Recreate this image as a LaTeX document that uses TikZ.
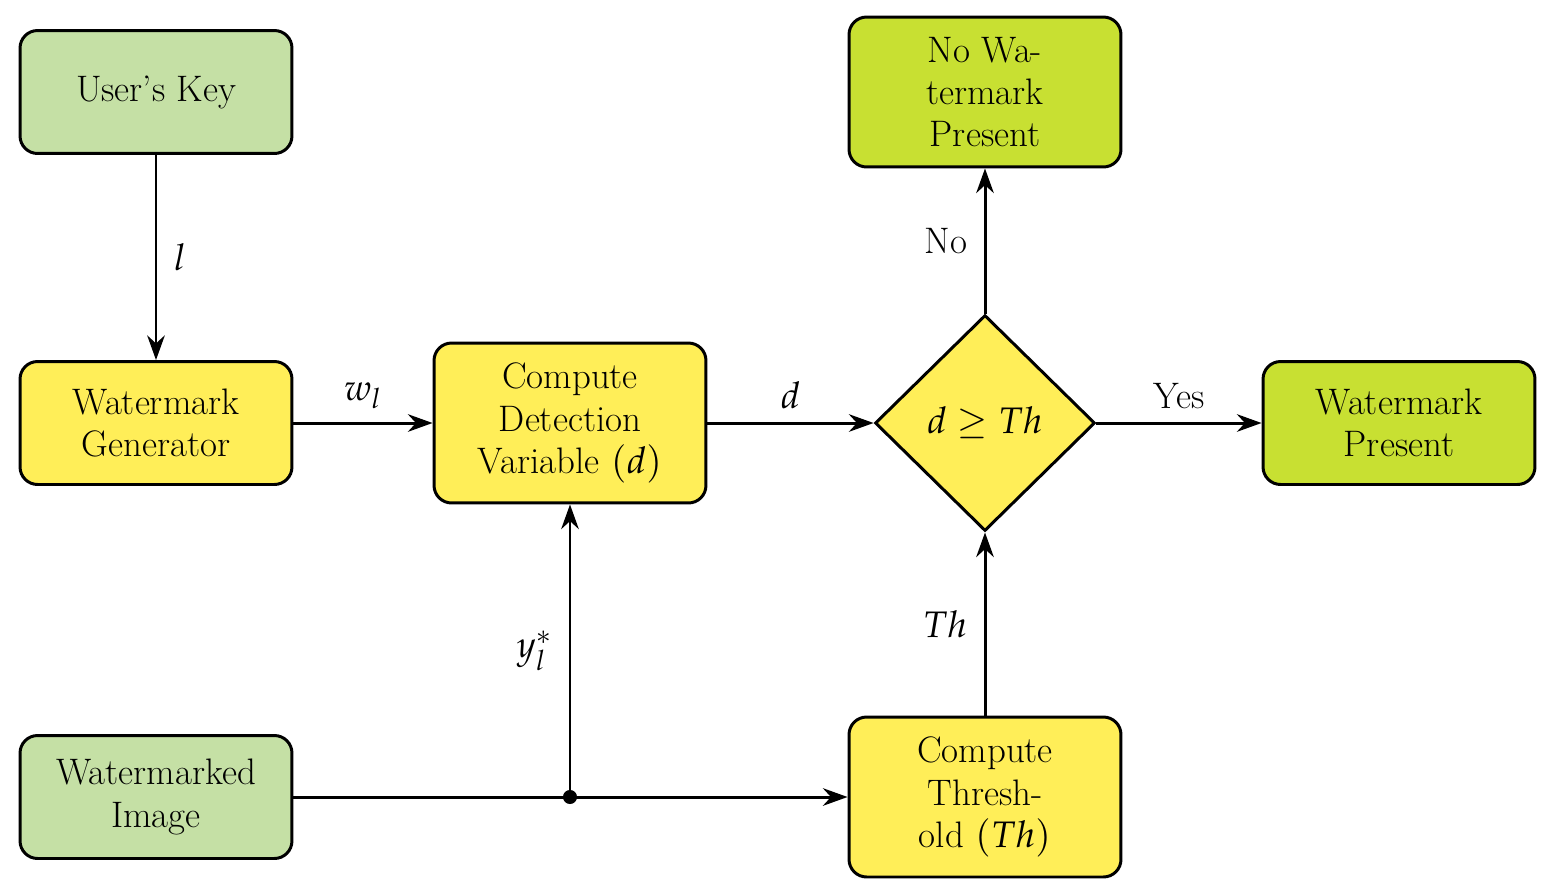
\documentclass[tikz,border=0pt]{standalone}
\usepackage{mathpazo}
\usetikzlibrary{shapes.geometric,arrows.meta}
\definecolor{lgreen}{HTML}{C5E0A5}
\definecolor{yel}{HTML}{FFEE58}
\definecolor{lime}{HTML}{C8E032}
\begin{document}
\begin{tikzpicture}[x=0.02cm,y=-0.02cm,
 box/.style={draw,line width=1.7pt,rounded corners=10pt,minimum width=5.44cm,minimum height=2.46cm,align=center,font=\fontsize{21}{24}\selectfont,inner sep=2pt},
 tall/.style={box,minimum height=3.2cm},
 arr/.style={line width=1.7pt,-{Stealth[length=14pt,width=10pt]}},
 lab/.style={font=\fontsize{21}{24}\selectfont}]
\useasboundingbox (0,0) rectangle (1552,893);
\node[box,fill=lgreen] (key) at (156,92) {User's Key};
\node[box,fill=yel] (gen) at (156,423) {Watermark\\Generator};
\node[tall,fill=yel] (cd) at (570,423) {Compute\\Detection\\Variable $(d)$};
\node[draw,diamond,line width=1.7pt,fill=yel,minimum width=4.4cm,minimum height=4.32cm,inner sep=0pt,lab] (dec) at (985,423) {$d\geq Th$};
\node[box,fill=lime] (wp) at (1399,423) {Watermark\\Present};
\node[tall,fill=lime,minimum height=3cm] (nwp) at (985,92) {No Wa-\\termark\\Present};
\node[box,fill=lgreen] (img) at (156,797) {Watermarked\\Image};
\node[tall,fill=yel] (ct) at (985,797) {Compute\\Thresh-\\old $(Th)$};
\coordinate (j) at (570,797);
\draw[arr] (key) -- node[right=6pt,lab]{$l$} (gen);
\draw[arr] (gen) -- node[above=4pt,lab]{$w_l$} (cd);
\draw[arr] (cd) -- node[above=4pt,lab]{$d$} (dec);
\draw[arr] (dec) -- node[above=4pt,lab]{Yes} (wp);
\draw[arr] (dec) -- node[left=6pt,lab]{No} (nwp);
\draw[arr] (ct) -- node[left=6pt,lab]{$Th$} (dec);
\draw[arr] (img) -- (ct);
\draw[arr] (j) -- node[left=6pt,lab]{$y_l^*$} (cd);
\fill (j) circle (4pt);
\end{tikzpicture}
\end{document}
